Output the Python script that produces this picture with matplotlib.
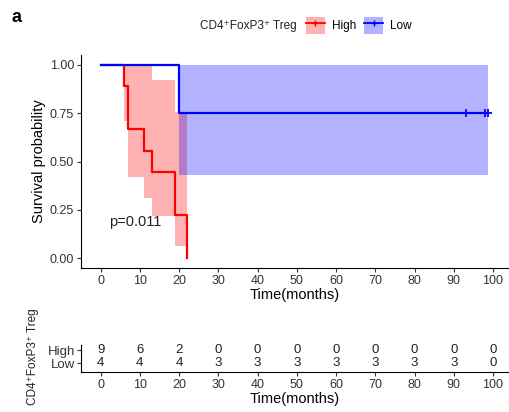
import matplotlib
matplotlib.use("Agg")
import matplotlib.pyplot as plt
from matplotlib.patches import Patch
from matplotlib.lines import Line2D
from matplotlib.legend_handler import HandlerTuple

plt.rcParams['font.family'] = ['Liberation Sans', 'DejaVu Sans']

# High group: KM steps and 95% CI
high_t = [0, 6, 7, 11, 13, 19, 22]
high_s = [1.0, 0.889, 0.667, 0.556, 0.444, 0.222, 0.0]
high_lo = [1.0, 0.709, 0.42, 0.31, 0.216, 0.064, 0.064]
high_hi = [1.0, 1.0, 1.0, 1.0, 0.922, 0.756, 0.756]

# Low group
low_t = [0, 20, 98.7]
low_s = [1.0, 0.75, 0.75]
low_lo = [1.0, 0.43, 0.43]
low_hi = [1.0, 1.0, 1.0]
low_cens = [93, 98, 98.7]

# number at risk table
risk_times = [0, 10, 20, 30, 40, 50, 60, 70, 80, 90, 100]
risk_high = [9, 6, 2, 0, 0, 0, 0, 0, 0, 0, 0]
risk_low = [4, 4, 4, 3, 3, 3, 3, 3, 3, 3, 0]

red = '#FF0000'
blue = '#0000FF'
group_title = 'CD4\u207aFoxP3\u207a Treg'

fig = plt.figure(figsize=(5.09, 4.12), dpi=100)
ax = fig.add_axes([81/509, 1-268/412, 1-81/509, (268-55)/412])

ax.fill_between(high_t, high_lo, high_hi, step='post', color=red, alpha=0.3, lw=0)
ax.fill_between(low_t, low_lo, low_hi, step='post', color=blue, alpha=0.3, lw=0)
ax.step(high_t, high_s, where='post', color=red, lw=1.6)
ax.step(low_t, low_s, where='post', color=blue, lw=1.6)
ax.plot(low_cens, [0.75] * len(low_cens), ls='none', marker='+', color=blue, ms=6, mew=1.3)

ax.text(2.2, 0.19, 'p=0.011', fontsize=10.5, va='center', ha='left', color='#222222')

ax.set_xlim(-5, (509-100)/3.93)
ax.set_ylim(-0.05, 1.05)
ax.set_xticks(risk_times)
ax.set_yticks([0, 0.25, 0.5, 0.75, 1.0])
ax.set_yticklabels(['0.00', '0.25', '0.50', '0.75', '1.00'])
ax.set_xlabel('Time(months)', fontsize=10.5, labelpad=1)
ax.set_ylabel('Survival probability', fontsize=10.5, labelpad=3)
ax.spines['top'].set_visible(False)
ax.spines['right'].set_visible(False)
ax.tick_params(length=3, pad=2, labelsize=9, colors='#333333', labelcolor='#333333')

# legend at top
fig.text(297/509, 1-25.5/412, group_title, fontsize=8.5, ha='right', va='center', color='#222222')
h_high = (Patch(facecolor=red, alpha=0.3, lw=0), Line2D([], [], color=red, marker='+', lw=1.3, ms=5))
h_low = (Patch(facecolor=blue, alpha=0.3, lw=0), Line2D([], [], color=blue, marker='+', lw=1.3, ms=5))
fig.legend([h_high, h_low], ['High', 'Low'], loc='center left', bbox_to_anchor=(300/509, 1-25.5/412),
           ncol=2, frameon=False, fontsize=8.5, handler_map={tuple: HandlerTuple(ndivide=1)},
           handlelength=1.6, handleheight=1.8, handletextpad=0.6, columnspacing=0.7, borderpad=0)

fig.text(12/509, 1-18/412, 'a', fontsize=13, fontweight='bold', ha='left', va='center')

# risk table
tx = fig.add_axes([81/509, 1-372/412, 1-81/509, (372-345)/412])
for t, nh, nl in zip(risk_times, risk_high, risk_low):
    tx.text(t, 2, str(nh), ha='center', va='center', fontsize=9.5, color='#222222')
    tx.text(t, 1, str(nl), ha='center', va='center', fontsize=9.5, color='#222222')
tx.set_xlim(ax.get_xlim())
tx.set_ylim(1 - 9/13, 2 + 5/13)
tx.set_xticks(risk_times)
tx.set_yticks([2, 1])
tx.set_yticklabels(['High', 'Low'], fontsize=9.5)
for lab, c in zip(tx.get_yticklabels(), [red, blue]):
    lab.set_color(c)
tx.spines['top'].set_visible(False)
tx.spines['right'].set_visible(False)
tx.tick_params(axis='x', length=3, pad=2, labelsize=9, colors='#333333', labelcolor='#333333')
tx.tick_params(axis='y', length=3, pad=1, colors='#333333')
tx.set_xlabel('Time(months)', fontsize=10.5, labelpad=1)
fig.text(33/509, 1-357/412, group_title, rotation=90, fontsize=8.5, ha='center', va='center', color='#222222')

fig.savefig('out.png', dpi=100)
